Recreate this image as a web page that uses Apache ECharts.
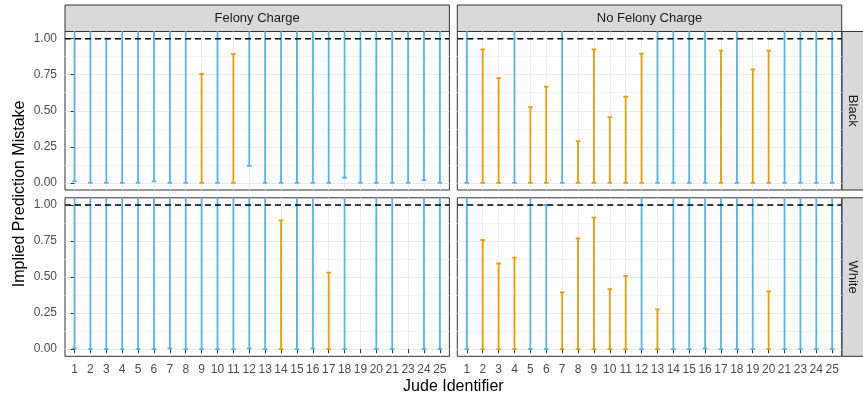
<!DOCTYPE html>
<html>
<head>
<meta charset="utf-8">
<script src="https://cdn.jsdelivr.net/npm/echarts@6/dist/echarts.min.js"></script>
<style>
  html, body { margin: 0; padding: 0; background: #ffffff; }
  #chart { width: 863px; height: 401px; }
</style>
</head>
<body>
<div id="chart"></div>
<script>
// Judge identifiers shown on the x axis (22 is not present)
const judgeLabels = ['1','2','3','4','5','6','7','8','9','10','11','12','13','14','15','16','17','18','19','20','21','23','24','25'];
const chargeLabels = ['Felony Charge', 'No Felony Charge'];
const raceLabels = ['Black', 'White'];
const yTicks = [0, 0.25, 0.5, 0.75, 1];
const yMinorTicks = [0.125, 0.375, 0.625, 0.875];
const referenceLevel = 1;

// Interval bounds per judge; upper bounds above 1.05 run off the top of the panel.
// null means no interval for that judge.
const felonyBlackLower = [0.01, 0, 0, 0, 0, 0.01, 0, 0, 0, 0, 0, 0.118, 0, 0, 0, 0, 0, 0.035, 0, 0, 0, 0, 0.019, 0];
const felonyBlackUpper = [1.2, 1.2, 1.0, 1.2, 1.2, 1.2, 1.2, 1.2, 0.755, 1.2, 0.893, 1.2, 1.2, 1.2, 1.2, 1.2, 1.2, 1.2, 1.2, 1.2, 1.2, 1.2, 1.2, 1.2];

const noFelonyBlackLower = [0, 0, 0, 0, 0, 0, 0, 0, 0, 0, 0, 0, 0, 0, 0, 0, 0, 0, 0, 0, 0, 0, 0, 0];
const noFelonyBlackUpper = [1.2, 0.926, 0.727, 1.2, 0.525, 0.667, 1.2, 0.289, 0.926, 0.456, 0.597, 0.896, 1.2, 1.2, 1.2, 1.2, 0.917, 1.2, 0.787, 0.917, 1.2, 1.2, 1.2, 1.2];

const felonyWhiteLower = [0.005, 0, 0, 0, 0, 0, 0.005, 0, 0, 0, 0, 0.005, 0, 0, 0, 0.005, 0, 0, null, 0, 0, null, 0, 0];
const felonyWhiteUpper = [1.2, 1.2, 1.2, 1.2, 1.2, 1.2, 1.2, 1.2, 1.2, 1.2, 1.2, 1.2, 1.2, 0.894, 1.2, 1.2, 0.531, 1.2, null, 1.2, 1.2, null, 1.2, 1.2];

const noFelonyWhiteLower = [0, 0, 0, 0, 0, 0, 0, 0, 0, 0, 0, 0, 0, 0, 0, 0.005, 0, 0, 0, 0, 0, 0, 0, 0];
const noFelonyWhiteUpper = [1.2, 0.757, 0.594, 0.635, 1.2, 1.0, 0.393, 0.769, 0.912, 0.416, 0.508, 1.2, 0.275, 1.2, 1.2, 1.2, 1.2, 1.2, 1.2, 0.40, 1.2, 1.2, 1.2, 1.2];

const COLOR_REACHES = '#56B4E9';
const COLOR_BELOW = '#E69F00';
const FONT = '"Liberation Sans", Arial, Helvetica, sans-serif';

// Panel layout: [row][col]
const panels = [
  { row: 0, col: 0, lower: felonyBlackLower, upper: felonyBlackUpper },
  { row: 0, col: 1, lower: noFelonyBlackLower, upper: noFelonyBlackUpper },
  { row: 1, col: 0, lower: felonyWhiteLower, upper: felonyWhiteUpper },
  { row: 1, col: 1, lower: noFelonyWhiteLower, upper: noFelonyWhiteUpper }
];
const colLeft = [65, 457.3];
const panelW = 384.4;
const rowTop = [31.5, 197.8];
const panelH = 158.5;
const stripTop = 5;
const stripRight = 842;

const idx = judgeLabels.map((_, i) => i);

function renderErrorBar(params, api) {
  const x = api.value(0);
  const lo = api.value(1);
  const hi = api.value(2);
  const pLo = api.coord([x, lo]);
  const pHi = api.coord([x, hi]);
  const hw = 2.3;
  const style = { stroke: api.visual('color'), lineWidth: 1.8 };
  return {
    type: 'group',
    children: [
      { type: 'line', shape: { x1: pLo[0], y1: pLo[1], x2: pHi[0], y2: pHi[1] }, style },
      { type: 'line', shape: { x1: pLo[0] - hw, y1: pLo[1], x2: pLo[0] + hw, y2: pLo[1] }, style },
      { type: 'line', shape: { x1: pHi[0] - hw, y1: pHi[1], x2: pHi[0] + hw, y2: pHi[1] }, style }
    ]
  };
}

const grid = [], xAxis = [], yAxis = [], series = [];
panels.forEach((p, g) => {
  const isBottom = p.row === 1;
  const isLeft = p.col === 0;
  grid.push({
    left: colLeft[p.col], top: rowTop[p.row], width: panelW, height: panelH,
    show: true, backgroundColor: '#ffffff', borderColor: '#333333', borderWidth: 1
  });
  xAxis.push({
    gridIndex: g, type: 'value', min: -0.6, max: 23.6,
    axisLine: { show: false },
    axisTick: { show: isBottom, customValues: idx, length: 4, lineStyle: { color: '#333333', width: 1 } },
    axisLabel: {
      show: isBottom, customValues: idx, margin: 7,
      formatter: v => judgeLabels[Math.round(v)],
      color: '#4D4D4D', fontSize: 12, fontFamily: FONT
    },
    splitLine: { show: true, lineStyle: { color: '#EBEBEB', width: 1 } }
  });
  yAxis.push({
    gridIndex: g, type: 'value', min: -0.05, max: 1.05,
    axisLine: { show: false },
    axisTick: { show: isLeft, customValues: yTicks, length: 4, lineStyle: { color: '#333333', width: 1 } },
    axisLabel: {
      show: isLeft, customValues: yTicks, margin: 8,
      formatter: v => v.toFixed(2),
      color: '#4D4D4D', fontSize: 12, fontFamily: FONT
    },
    splitLine: { show: true, lineStyle: { color: '#EBEBEB', width: 1 } }
  });
  // minor horizontal grid lines
  yAxis.push({
    gridIndex: g, type: 'value', min: -0.05, max: 1.05, position: 'left',
    axisLine: { show: false },
    axisTick: { show: false, customValues: yMinorTicks },
    axisLabel: { show: false, customValues: yMinorTicks },
    splitLine: { show: true, lineStyle: { color: '#F4F4F4', width: 1 } }
  });

  const data = [];
  p.lower.forEach((lo, i) => {
    const hi = p.upper[i];
    if (lo === null || hi === null) return;
    data.push({ value: [i, lo, hi], itemStyle: { color: hi < referenceLevel ? COLOR_BELOW : COLOR_REACHES } });
  });
  series.push({
    type: 'custom', xAxisIndex: g, yAxisIndex: 2 * g,
    renderItem: renderErrorBar, encode: { x: 0, y: [1, 2] },
    clip: true, silent: true, z: 3, data
  });
  series.push({
    type: 'line', xAxisIndex: g, yAxisIndex: 2 * g,
    data: [[-0.6, referenceLevel], [23.6, referenceLevel]],
    symbol: 'none', silent: true, z: 5, animation: false,
    lineStyle: { color: '#000000', width: 1.6, type: [6, 4] }
  });
});

const graphic = [];
chargeLabels.forEach((t, c) => {
  graphic.push({
    type: 'rect', shape: { x: colLeft[c], y: stripTop, width: panelW, height: rowTop[0] - stripTop },
    style: { fill: '#D9D9D9', stroke: '#333333', lineWidth: 1 }, silent: true
  });
  graphic.push({
    type: 'text', x: colLeft[c] + panelW / 2, y: (stripTop + rowTop[0]) / 2,
    style: { text: t, fill: '#1A1A1A', font: '13px ' + FONT, align: 'center', verticalAlign: 'middle' }, silent: true
  });
});
raceLabels.forEach((t, r) => {
  graphic.push({
    type: 'rect', shape: { x: stripRight, y: rowTop[r], width: 22, height: panelH },
    style: { fill: '#D9D9D9', stroke: '#333333', lineWidth: 1 }, silent: true
  });
  graphic.push({
    type: 'text', x: stripRight + 11, y: rowTop[r] + panelH / 2, rotation: -Math.PI / 2,
    style: { text: t, fill: '#1A1A1A', font: '13px ' + FONT, align: 'center', verticalAlign: 'middle' }, silent: true
  });
});
graphic.push({
  type: 'text', x: 20, y: (rowTop[0] + rowTop[1] + panelH) / 2, rotation: Math.PI / 2,
  style: { text: 'Implied Prediction Mistake', fill: '#000000', font: '16px ' + FONT, align: 'center', verticalAlign: 'middle' }, silent: true
});
graphic.push({
  type: 'text', x: (colLeft[0] + colLeft[1] + panelW) / 2, y: 387,
  style: { text: 'Jude Identifier', fill: '#000000', font: '16px ' + FONT, align: 'center', verticalAlign: 'middle' }, silent: true
});

const chart = echarts.init(document.getElementById('chart'), null, { renderer: 'canvas' });
chart.setOption({
  backgroundColor: '#ffffff',
  animation: false,
  grid, xAxis, yAxis, series, graphic
});
</script>
</body>
</html>
